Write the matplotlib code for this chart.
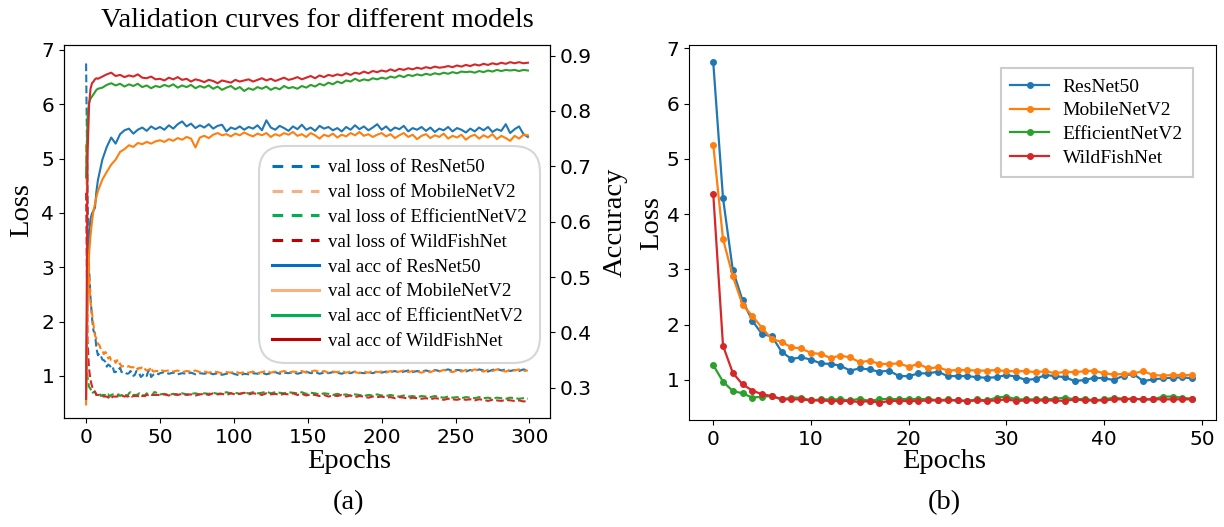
import numpy as np
import matplotlib
matplotlib.use("Agg")
import matplotlib.pyplot as plt
from matplotlib.lines import Line2D

# ---------------- panel (b): first 50 epochs of validation loss ----------------
epochs_b = np.arange(50)
loss_b_resnet = [6.75, 4.29, 2.99, 2.44, 2.07, 1.83, 1.79, 1.51, 1.38, 1.41,
                 1.37, 1.30, 1.29, 1.26, 1.17, 1.21, 1.19, 1.15, 1.17, 1.07,
                 1.07, 1.12, 1.12, 1.15, 1.07, 1.07, 1.07, 1.05, 1.04, 1.05,
                 1.09, 1.06, 1.00, 1.02, 1.09, 1.07, 1.05, 0.98, 1.00, 1.04,
                 1.03, 1.00, 1.08, 1.11, 0.98, 1.01, 1.03, 1.04, 1.05, 1.03]
loss_b_mobile = [5.26, 3.55, 2.88, 2.36, 2.16, 1.94, 1.74, 1.69, 1.59, 1.57,
                 1.49, 1.47, 1.40, 1.44, 1.41, 1.32, 1.35, 1.29, 1.29, 1.30,
                 1.24, 1.29, 1.21, 1.23, 1.17, 1.18, 1.18, 1.17, 1.17, 1.18,
                 1.16, 1.16, 1.16, 1.14, 1.16, 1.12, 1.15, 1.14, 1.16, 1.17,
                 1.12, 1.10, 1.11, 1.12, 1.16, 1.09, 1.08, 1.09, 1.09, 1.09]
loss_b_effnet = [1.27, 0.97, 0.80, 0.76, 0.68, 0.70, 0.71, 0.65, 0.68, 0.68,
                 0.63, 0.65, 0.65, 0.65, 0.63, 0.66, 0.62, 0.65, 0.66, 0.65,
                 0.66, 0.65, 0.66, 0.63, 0.65, 0.63, 0.62, 0.65, 0.63, 0.68,
                 0.70, 0.65, 0.65, 0.65, 0.65, 0.66, 0.68, 0.65, 0.66, 0.63,
                 0.65, 0.68, 0.66, 0.66, 0.65, 0.65, 0.70, 0.70, 0.68, 0.66]
loss_b_wildfish = [4.37, 1.62, 1.13, 0.92, 0.81, 0.74, 0.71, 0.65, 0.65, 0.65,
                   0.63, 0.63, 0.62, 0.62, 0.62, 0.60, 0.62, 0.59, 0.62, 0.62,
                   0.62, 0.62, 0.63, 0.63, 0.63, 0.63, 0.62, 0.63, 0.62, 0.63,
                   0.65, 0.62, 0.63, 0.63, 0.63, 0.63, 0.62, 0.65, 0.63, 0.63,
                   0.63, 0.65, 0.65, 0.66, 0.65, 0.65, 0.65, 0.65, 0.65, 0.65]

# ---------------- panel (a): 300 epochs ----------------
# loss after epoch 49, read every 3 epochs
epochs_tail = np.arange(50, 300, 3)
loss_tail_resnet = [1.05, 1.07, 1.04, 1.06, 1.03, 1.05, 1.04, 1.06, 1.03, 1.05,
                    1.04, 1.06, 1.03, 1.05, 1.02, 1.04, 1.06, 1.03, 1.01, 1.04,
                    1.03, 1.05, 1.04, 1.06, 1.03, 1.05, 1.07, 1.04, 1.06, 1.05,
                    1.07, 1.04, 1.06, 1.08, 1.05, 1.07, 1.04, 1.06, 1.05, 1.07,
                    1.06, 1.04, 1.07, 1.05, 1.08, 1.06, 1.05, 1.07, 1.05, 1.08,
                    1.06, 1.08, 1.07, 1.09, 1.06, 1.08, 1.10, 1.07, 1.09, 1.08,
                    1.10, 1.08, 1.11, 1.09, 1.10, 1.12, 1.09, 1.11, 1.10, 1.08,
                    1.11, 1.09, 1.12, 1.10, 1.08, 1.11, 1.13, 1.10, 1.12, 1.09,
                    1.11, 1.09, 1.12, 1.10]
loss_tail_mobile = [1.11, 1.09, 1.10, 1.08, 1.10, 1.07, 1.09, 1.08, 1.10, 1.07,
                    1.08, 1.06, 1.08, 1.07, 1.05, 1.07, 1.06, 1.08, 1.05, 1.07,
                    1.06, 1.08, 1.05, 1.07, 1.09, 1.06, 1.08, 1.07, 1.09, 1.06,
                    1.08, 1.07, 1.09, 1.06, 1.08, 1.10, 1.07, 1.09, 1.06, 1.08,
                    1.07, 1.09, 1.06, 1.08, 1.07, 1.05, 1.08, 1.06, 1.09, 1.07,
                    1.08, 1.06, 1.09, 1.07, 1.08, 1.10, 1.07, 1.09, 1.08, 1.06,
                    1.09, 1.07, 1.10, 1.08, 1.11, 1.09, 1.07, 1.10, 1.08, 1.11,
                    1.09, 1.12, 1.10, 1.08, 1.11, 1.09, 1.12, 1.10, 1.08, 1.11,
                    1.10, 1.12, 1.09, 1.10]
loss_tail_effnet = [0.66, 0.67, 0.65, 0.67, 0.66, 0.68, 0.66, 0.67, 0.68, 0.66,
                    0.68, 0.67, 0.69, 0.67, 0.68, 0.70, 0.68, 0.69, 0.67, 0.69,
                    0.68, 0.70, 0.68, 0.69, 0.71, 0.68, 0.70, 0.69, 0.68, 0.70,
                    0.69, 0.68, 0.70, 0.67, 0.69, 0.68, 0.66, 0.68, 0.67, 0.65,
                    0.67, 0.65, 0.66, 0.64, 0.66, 0.65, 0.63, 0.65, 0.64, 0.66,
                    0.64, 0.63, 0.65, 0.63, 0.62, 0.64, 0.62, 0.63, 0.61, 0.63,
                    0.62, 0.61, 0.63, 0.61, 0.60, 0.62, 0.60, 0.61, 0.59, 0.61,
                    0.60, 0.59, 0.61, 0.59, 0.60, 0.58, 0.60, 0.59, 0.58, 0.60,
                    0.59, 0.58, 0.59, 0.58]
loss_tail_wildfish = [0.65, 0.66, 0.64, 0.66, 0.65, 0.67, 0.65, 0.66, 0.64, 0.66,
                      0.67, 0.65, 0.68, 0.66, 0.67, 0.65, 0.68, 0.66, 0.67, 0.69,
                      0.66, 0.68, 0.67, 0.65, 0.68, 0.66, 0.67, 0.65, 0.67, 0.66,
                      0.68, 0.65, 0.67, 0.64, 0.66, 0.65, 0.63, 0.65, 0.62, 0.64,
                      0.63, 0.65, 0.62, 0.64, 0.61, 0.63, 0.62, 0.60, 0.62, 0.61,
                      0.62, 0.60, 0.61, 0.59, 0.61, 0.60, 0.58, 0.60, 0.59, 0.58,
                      0.59, 0.57, 0.59, 0.58, 0.56, 0.58, 0.57, 0.56, 0.58, 0.56,
                      0.57, 0.55, 0.57, 0.56, 0.54, 0.56, 0.55, 0.54, 0.56, 0.55,
                      0.54, 0.55, 0.53, 0.54]

# accuracy: epochs 0-8, then every 3 epochs
epochs_acc = np.r_[0:9, 11:50:3, 50:300:3]
acc_resnet = [0.30, 0.50, 0.58, 0.605, 0.615, 0.62, 0.625, 0.655, 0.675,
              0.712, 0.735, 0.752, 0.741, 0.758, 0.765, 0.768, 0.759, 0.766, 0.770, 0.764, 0.772, 0.767,
              0.771, 0.766, 0.774, 0.768, 0.776, 0.781, 0.772, 0.777, 0.769, 0.774,
              0.770, 0.776, 0.768, 0.773, 0.775, 0.763, 0.770, 0.767, 0.772, 0.766,
              0.771, 0.768, 0.774, 0.765, 0.783, 0.770, 0.766, 0.773, 0.769, 0.764,
              0.772, 0.767, 0.775, 0.766, 0.770, 0.764, 0.773, 0.768, 0.771, 0.765,
              0.769, 0.763, 0.771, 0.766, 0.774, 0.767, 0.772, 0.765, 0.770, 0.776,
              0.766, 0.772, 0.764, 0.770, 0.767, 0.773, 0.763, 0.769, 0.766, 0.771,
              0.764, 0.770, 0.762, 0.768, 0.765, 0.771, 0.763, 0.769, 0.766, 0.761,
              0.768, 0.763, 0.770, 0.765, 0.771, 0.762, 0.767, 0.764, 0.776, 0.760,
              0.767, 0.772, 0.758, 0.753]
acc_mobile = [0.27, 0.45, 0.54, 0.575, 0.60, 0.62, 0.632, 0.645, 0.655,
              0.676, 0.690, 0.703, 0.712, 0.726, 0.731, 0.738, 0.735, 0.742, 0.740, 0.744, 0.741, 0.745,
              0.747, 0.744, 0.749, 0.746, 0.751, 0.748, 0.753, 0.750, 0.734, 0.752,
              0.755, 0.751, 0.757, 0.760, 0.756, 0.758, 0.754, 0.759, 0.756, 0.761,
              0.757, 0.754, 0.759, 0.756, 0.760, 0.753, 0.758, 0.755, 0.760, 0.757,
              0.762, 0.755, 0.758, 0.753, 0.760, 0.756, 0.750, 0.757, 0.754, 0.759,
              0.752, 0.757, 0.754, 0.760, 0.756, 0.762, 0.755, 0.758, 0.753, 0.757,
              0.760, 0.754, 0.758, 0.751, 0.756, 0.760, 0.753, 0.757, 0.749, 0.755,
              0.758, 0.751, 0.756, 0.753, 0.759, 0.750, 0.755, 0.752, 0.757, 0.748,
              0.754, 0.757, 0.750, 0.756, 0.752, 0.758, 0.749, 0.755, 0.751, 0.746,
              0.755, 0.750, 0.757, 0.756]
acc_effnet = [0.68, 0.79, 0.815, 0.822, 0.826, 0.830, 0.834, 0.838, 0.840,
              0.842, 0.847, 0.850, 0.846, 0.849, 0.844, 0.848, 0.845, 0.849, 0.843, 0.846, 0.841, 0.845,
              0.843, 0.847, 0.844, 0.848, 0.842, 0.846, 0.843, 0.847, 0.841, 0.845,
              0.842, 0.846, 0.840, 0.844, 0.838, 0.842, 0.845, 0.839, 0.843, 0.836,
              0.841, 0.838, 0.843, 0.840, 0.844, 0.838, 0.842, 0.839, 0.845, 0.841,
              0.843, 0.840, 0.845, 0.842, 0.847, 0.844, 0.849, 0.846, 0.851, 0.848,
              0.853, 0.850, 0.855, 0.853, 0.858, 0.854, 0.857, 0.855, 0.859, 0.857,
              0.860, 0.858, 0.862, 0.860, 0.864, 0.861, 0.865, 0.863, 0.866, 0.864,
              0.867, 0.865, 0.868, 0.866, 0.869, 0.867, 0.870, 0.868, 0.871, 0.870,
              0.871, 0.869, 0.872, 0.870, 0.873, 0.871, 0.874, 0.872, 0.874, 0.873,
              0.874, 0.872, 0.874, 0.873]
acc_wildfish = [0.28, 0.72, 0.81, 0.84, 0.85, 0.853, 0.857, 0.859, 0.858,
                0.862, 0.866, 0.869, 0.863, 0.865, 0.861, 0.864, 0.862, 0.866, 0.860, 0.859, 0.862, 0.857,
                0.858, 0.855, 0.860, 0.857, 0.861, 0.856, 0.858, 0.853, 0.857, 0.855,
                0.852, 0.856, 0.854, 0.850, 0.855, 0.853, 0.851, 0.856, 0.853, 0.855,
                0.857, 0.853, 0.856, 0.859, 0.855, 0.858, 0.854, 0.857, 0.860, 0.856,
                0.858, 0.861, 0.857, 0.860, 0.863, 0.859, 0.864, 0.861, 0.865, 0.863,
                0.866, 0.864, 0.868, 0.865, 0.869, 0.867, 0.871, 0.868, 0.872, 0.870,
                0.873, 0.871, 0.875, 0.872, 0.876, 0.874, 0.877, 0.875, 0.878, 0.876,
                0.879, 0.877, 0.880, 0.878, 0.879, 0.881, 0.879, 0.882, 0.880, 0.883,
                0.881, 0.884, 0.882, 0.885, 0.883, 0.886, 0.884, 0.887, 0.885, 0.888,
                0.886, 0.888, 0.886, 0.887]

models = ["ResNet50", "MobileNetV2", "EfficientNetV2", "WildFishNet"]
colors = ["#1f77b4", "#ff7f0e", "#2ca02c", "#d62728"]
legend_colors_a = ["#0070c0", "#f4b183", "#00b050", "#c00000"]

SERIF = "Liberation Serif"
W, H = 1224, 527


def main():
    fig = plt.figure(figsize=(W / 100, H / 100), dpi=100)

    # ---- (a) ----
    ax1 = fig.add_axes([64 / W, 1 - 418.3 / H, 486 / W, 373.3 / H])
    ax2 = ax1.twinx()

    epochs_a = np.concatenate([epochs_b, epochs_tail])
    losses_a = [loss_b_resnet + loss_tail_resnet, loss_b_mobile + loss_tail_mobile,
                loss_b_effnet + loss_tail_effnet, loss_b_wildfish + loss_tail_wildfish]
    accs_a = [acc_resnet, acc_mobile, acc_effnet, acc_wildfish]

    for loss, c in zip(losses_a, colors):
        ax1.plot(epochs_a, loss, "--", color=c, lw=1.5)
    for acc, c in zip(accs_a, colors):
        ax2.plot(epochs_acc, acc, "-", color=c, lw=1.5)

    ax1.set_xlim(-14.95, 313.95)
    ax1.set_ylim(0.22, 7.09)
    ax2.set_ylim(0.245, 0.919)
    ax1.set_xticks(range(0, 301, 50))
    ax1.set_yticks(range(1, 8))
    ax2.set_yticks([0.3, 0.4, 0.5, 0.6, 0.7, 0.8, 0.9])
    for a in (ax1, ax2):
        a.tick_params(labelsize=14.5)

    ax1.set_xlabel("Epochs", family=SERIF, fontsize=20.5)
    ax1.set_ylabel("Loss", family=SERIF, fontsize=20.5)
    ax2.set_ylabel("Accuracy", family=SERIF, fontsize=20.5)
    ax1.xaxis.set_label_coords(0.586, -0.082)
    ax1.yaxis.set_label_coords(-0.062, 0.558)
    ax2.yaxis.set_label_coords(1.109, 0.526)

    handles = [Line2D([], [], color=c, lw=2.2, ls=(0, (3.5, 2.8))) for c in legend_colors_a]
    handles += [Line2D([], [], color=c, lw=2.2) for c in legend_colors_a]
    labels = [f"val loss of {m}" for m in models] + [f"val acc of {m}" for m in models]
    leg = ax2.legend(handles, labels, loc="upper left", bbox_to_anchor=(0.401, 0.7294),
                     borderaxespad=0, prop={"family": SERIF, "size": 13.6},
                     handlelength=2.5, handletextpad=0.45, labelspacing=0.40,
                     borderpad=0.7, framealpha=1, fancybox=True)
    fr = leg.get_frame()
    fr.set_boxstyle("round", pad=0, rounding_size=1.4)
    fr.set_edgecolor("#d6d6d6")
    fr.set_linewidth(1.5)

    fig.text(317 / W, 1 - 26.7 / H, "Validation curves for different models",
             family=SERIF, fontsize=20.5, ha="center", va="baseline")
    fig.text(348 / W, 1 - 503 / H, "(a)", family=SERIF, fontsize=20.5,
             ha="center", va="center")

    # ---- (b) ----
    ax3 = fig.add_axes([689.3 / W, 1 - 419.8 / H, 526.7 / W, 374.8 / H])
    losses_b = [loss_b_resnet, loss_b_mobile, loss_b_effnet, loss_b_wildfish]
    for loss, c, m in zip(losses_b, colors, models):
        ax3.plot(epochs_b, loss, "-o", color=c, lw=1.6, ms=4, label=m)
    ax3.set_xlim(-2.45, 51.45)
    ax3.set_ylim(0.28, 7.06)
    ax3.set_xticks(range(0, 51, 10))
    ax3.set_yticks(range(1, 8))
    ax3.tick_params(labelsize=14.5)
    ax3.set_xlabel("Epochs", family=SERIF, fontsize=20.5)
    ax3.set_ylabel("Loss", family=SERIF, fontsize=20.5)
    ax3.xaxis.set_label_coords(0.4845, -0.078)
    ax3.yaxis.set_label_coords(-0.048, 0.525)
    leg_b = ax3.legend(loc="upper left", bbox_to_anchor=(0.591, 0.938), borderaxespad=0,
                       prop={"family": SERIF, "size": 14}, handlelength=2.0,
                       handletextpad=0.7, labelspacing=0.32, borderpad=0.5,
                       framealpha=1, fancybox=False)
    fb = leg_b.get_frame()
    fb.set_edgecolor("#cccccc")
    fb.set_linewidth(1.5)

    fig.text(944.5 / W, 1 - 503 / H, "(b)", family=SERIF, fontsize=20.5,
             ha="center", va="center")

    fig.savefig("out.png", dpi=100)


if __name__ == "__main__":
    main()
